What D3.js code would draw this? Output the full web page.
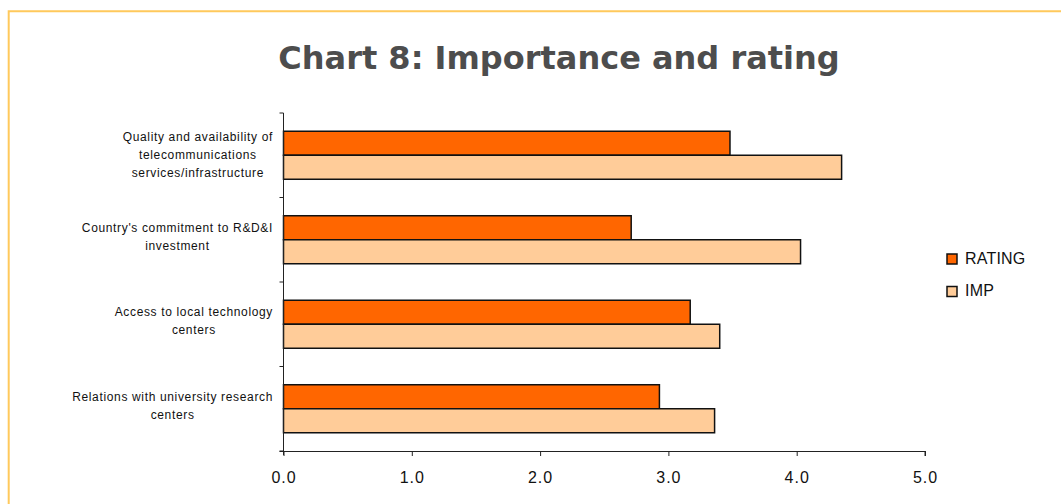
<!DOCTYPE html>
<html>
<head>
<meta charset="utf-8">
<script src="https://cdn.jsdelivr.net/npm/d3@7"></script>
<style>
  html, body { margin: 0; padding: 0; background: #fff; }
  svg { display: block; }
</style>
</head>
<body>
<svg id="chart" width="1061" height="504"></svg>
<script>
// Categories, top to bottom, each split into display lines
const categories = [
  "Quality and availability of telecommunications services/infrastructure",
  "Country's commitment to R&D&I investment",
  "Access to local technology centers",
  "Relations with university research centers"
];
const categoryLines = [
  ["Quality and availability of", "telecommunications", "services/infrastructure"],
  ["Country's commitment to R&D&I", "investment"],
  ["Access to local technology", "centers"],
  ["Relations with university research", "centers"]
];
const seriesNames = ["RATING", "IMP"];
const ratingValues = [3.48, 2.71, 3.17, 2.93];
const impValues = [4.35, 4.03, 3.40, 3.36];
const xTicks = [0, 1, 2, 3, 4, 5];
const seriesColors = ["#FF6600", "#FFCC99"];

const svg = d3.select("#chart");

// Outer frame: top and left edges
svg.append("path")
  .attr("d", "M8.7,1000 L8.7,11.3 L1061,11.3")
  .attr("fill", "none")
  .attr("stroke", "#FFC95C")
  .attr("stroke-width", 2);

// Title
svg.append("text")
  .attr("x", 559)
  .attr("y", 69)
  .attr("text-anchor", "middle")
  .attr("font-family", "DejaVu Sans")
  .attr("font-weight", "bold")
  .attr("font-size", 32)
  .attr("fill", "#4D4D4D")
  .text("Chart 8: Importance and rating");

const plot = { left: 283.5, right: 925, top: 113, bottom: 451 };

const x = d3.scaleLinear().domain([0, 5]).range([plot.left, plot.right]);
const y = d3.scaleBand().domain(categories).range([plot.top, plot.bottom]).padding(0);
const ySub = d3.scaleBand().domain(seriesNames).range([0, y.bandwidth()])
  .paddingInner(0).paddingOuter(0.76);

const rows = categories.map((c, i) => ({
  category: c,
  values: [
    { series: "RATING", value: ratingValues[i] },
    { series: "IMP", value: impValues[i] }
  ]
}));
const color = d3.scaleOrdinal().domain(seriesNames).range(seriesColors);

// Bars
const groups = svg.append("g").selectAll("g")
  .data(rows).join("g")
  .attr("transform", d => `translate(0,${y(d.category)})`);
groups.selectAll("rect")
  .data(d => d.values).join("rect")
  .attr("x", x(0))
  .attr("y", d => ySub(d.series))
  .attr("width", d => x(d.value) - x(0))
  .attr("height", ySub.bandwidth())
  .attr("fill", d => color(d.series))
  .attr("stroke", "#111")
  .attr("stroke-width", 1.5);

// Bottom axis
const xAxis = svg.append("g")
  .attr("transform", `translate(0,${plot.bottom})`)
  .call(d3.axisBottom(x).tickValues(xTicks).tickFormat(d3.format(".1f")).tickSize(5).tickSizeOuter(5));
xAxis.select(".domain").attr("d", `M${plot.left - 4},0.5H${plot.right}V5`).attr("stroke", "#222");
xAxis.selectAll(".tick line").attr("stroke", "#222");
xAxis.selectAll(".tick text")
  .attr("y", 0).attr("dy", 0)
  .attr("transform", "translate(0,32)")
  .attr("font-family", "Liberation Sans, Arial, sans-serif")
  .attr("font-size", 16)
  .attr("letter-spacing", 1)
  .attr("fill", "#111");

// Left axis: line with ticks at category boundaries
const boundaries = categories.map(c => y(c)).concat([plot.bottom]);
const yAxis = svg.append("g");
yAxis.append("line")
  .attr("x1", plot.left).attr("x2", plot.left)
  .attr("y1", plot.top).attr("y2", plot.bottom + 4)
  .attr("stroke", "#222");
yAxis.selectAll("line.tick")
  .data(boundaries).join("line")
  .attr("class", "tick")
  .attr("x1", plot.left - 4).attr("x2", plot.left)
  .attr("y1", d => d).attr("y2", d => d)
  .attr("stroke", "#222");

// Category labels: lines centred within a block whose right edge sits left of the axis
const lineHeight = 18;
const labelRight = 273;
svg.append("g").selectAll("text")
  .data(categories).join("text")
  .attr("text-anchor", "middle")
  .attr("font-family", "Liberation Sans, Arial, sans-serif")
  .attr("font-size", 12)
  .attr("letter-spacing", 0.65)
  .attr("fill", "#111")
  .each(function(c, i) {
    const lines = categoryLines[i];
    const cy = y(c) + y.bandwidth() / 2;
    const start = cy - (lines.length - 1) * lineHeight / 2 + 4;
    const spans = d3.select(this).selectAll("tspan")
      .data(lines).join("tspan")
      .attr("y", (d, j) => start + j * lineHeight - (lines.length === 2 ? 3 : 0))
      .text(d => d);
    let maxW = 0;
    spans.each(function() { maxW = Math.max(maxW, this.getComputedTextLength()); });
    spans.attr("x", labelRight - maxW / 2);
  });

// Legend
const legend = svg.append("g").selectAll("g")
  .data(seriesNames).join("g")
  .attr("transform", (d, i) => `translate(947,${254 + i * 32.5})`);
legend.append("rect")
  .attr("width", 10).attr("height", 10)
  .attr("fill", d => color(d))
  .attr("stroke", "#111")
  .attr("stroke-width", 1.5);
legend.append("text")
  .attr("x", 18).attr("y", 9.5)
  .attr("font-family", "Liberation Sans, Arial, sans-serif")
  .attr("font-size", 16)
  .attr("letter-spacing", 0.2)
  .attr("fill", "#111")
  .text(d => d);
</script>
</body>
</html>
